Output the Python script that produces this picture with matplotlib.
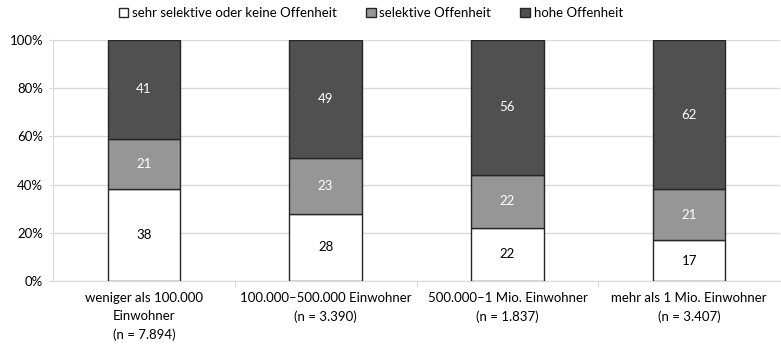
import matplotlib.pyplot as plt
import numpy as np

plt.rcParams['font.family'] = ['Lato', 'DejaVu Sans']

categories = ['weniger als 100.000\nEinwohner\n(n = 7.894)',
              '100.000–500.000 Einwohner\n(n = 3.390)',
              '500.000–1 Mio. Einwohner\n(n = 1.837)',
              'mehr als 1 Mio. Einwohner\n(n = 3.407)']
series_names = ['sehr selektive oder keine Offenheit', 'selektive Offenheit', 'hohe Offenheit']
niedrig = [38, 28, 22, 17]
selektiv = [21, 23, 22, 21]
hoch = [41, 49, 56, 62]

colors = ['#ffffff', '#969696', '#505050']
text_colors = ['black', 'white', 'white']

fig = plt.figure(figsize=(7.81, 3.46), dpi=100)
ax = fig.add_axes([53 / 781, 1 - 281 / 346, 727 / 781, 241 / 346])

x = np.arange(len(categories))
bottom = np.zeros(len(categories))
for vals, name, c, tc in zip([niedrig, selektiv, hoch], series_names, colors, text_colors):
    vals = np.array(vals, dtype=float)
    ax.bar(x, vals / 100, 0.4, bottom=bottom / 100, color=c, edgecolor='#262626',
           linewidth=1.0, label=name, zorder=3)
    for xi, v, b in zip(x, vals, bottom):
        ax.text(xi, (b + v / 2) / 100, f'{int(v)}', ha='center', va='center',
                color=tc, fontsize=9.5, zorder=4)
    bottom += vals

ax.set_xlim(-0.5, len(categories) - 0.5)
ax.set_ylim(0, 1)
ax.set_yticks(np.arange(0, 1.01, 0.2))
ax.set_yticklabels([f'{int(round(t * 100))}%' for t in np.arange(0, 1.01, 0.2)], fontsize=9.5)
ax.yaxis.grid(True, color='#d9d9d9', linewidth=1, zorder=0)
ax.tick_params(axis='y', length=3, color='#d9d9d9', pad=4)

# category labels as centred multi-line text
ax.set_xticks(np.arange(len(categories) - 1) + 0.5)
ax.set_xticklabels([])
ax.tick_params(axis='x', length=4, color='#d9d9d9')
for xi, lab in zip(x, categories):
    ax.text(xi, -0.045, lab, transform=ax.get_xaxis_transform(), ha='center', va='top',
            multialignment='center', linespacing=1.6, fontsize=9.5)

for s in ['top', 'right']:
    ax.spines[s].set_visible(False)
ax.spines['left'].set_color('#d9d9d9')
ax.spines['bottom'].set_color('#d9d9d9')

fig.legend(loc='center', bbox_to_anchor=(371 / 781, 1 - 13 / 346), ncol=3, frameon=False,
           fontsize=9.5, handlelength=0.7, handleheight=0.7, handletextpad=0.3,
           columnspacing=2.2, borderaxespad=0)

fig.savefig('out.png', dpi=100)
